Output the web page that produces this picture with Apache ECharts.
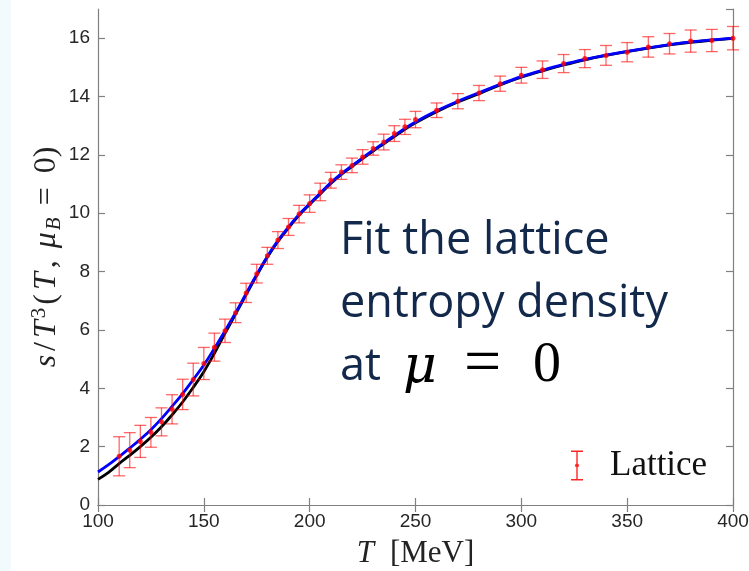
<!DOCTYPE html>
<html>
<head>
<meta charset="utf-8">
<script src="https://cdn.jsdelivr.net/npm/echarts@6/dist/echarts.min.js"></script>
<style>
html,body{margin:0;padding:0;background:#fff;}
#chart{width:749px;height:571px;}
</style>
</head>
<body>
<div id="chart"></div>
<script>
// Lattice data: temperature [MeV], s/T^3, error
var latticeT = [110,115,120,125,130,135,140,145,150,155,160,165,170,175,180,185,190,195,200,205,210,215,220,225,230,235,240,245,250,260,270,280,290,300,310,320,330,340,350,360,370,380,390,400];
var latticeS = [1.67,1.88,2.18,2.49,2.85,3.28,3.79,4.30,4.85,5.41,5.97,6.59,7.27,7.93,8.54,9.08,9.53,9.97,10.33,10.73,11.13,11.41,11.64,11.93,12.22,12.44,12.73,12.96,13.21,13.53,13.84,14.12,14.44,14.73,14.92,15.13,15.30,15.41,15.52,15.70,15.81,15.90,15.92,16.00];
var latticeErr = [0.67,0.60,0.55,0.51,0.48,0.50,0.52,0.56,0.55,0.48,0.40,0.34,0.33,0.32,0.29,0.29,0.29,0.30,0.30,0.30,0.27,0.25,0.25,0.25,0.23,0.27,0.27,0.26,0.28,0.25,0.26,0.26,0.26,0.27,0.30,0.31,0.31,0.34,0.33,0.35,0.35,0.38,0.38,0.40];

// Fit curves
var curveT = [100,105,110,115,120,125,130,135,140,145,150,155,160,165,170,175,180,185,190,195,200,205,210,215,220,225,230,235,240,245,250,260,270,280,290,300,310,320,330,340,350,360,370,380,390,400];
var blueFit = [1.13,1.38,1.66,1.95,2.25,2.58,2.96,3.38,3.82,4.30,4.80,5.37,5.97,6.59,7.25,7.90,8.52,9.06,9.53,9.96,10.33,10.69,11.05,11.36,11.63,11.90,12.16,12.41,12.66,12.91,13.13,13.51,13.84,14.13,14.42,14.68,14.90,15.10,15.27,15.42,15.55,15.67,15.78,15.87,15.94,16.00];
var blackFit = [0.88,1.12,1.42,1.70,2.00,2.32,2.68,3.09,3.53,4.03,4.57,5.20,5.88,6.54,7.21,7.87,8.49,9.03,9.50,9.93,10.30,10.66,11.02,11.33,11.60,11.87,12.13,12.38,12.63,12.88,13.10,13.48,13.81,14.10,14.40,14.66,14.88,15.08,15.26,15.41,15.54,15.66,15.77,15.86,15.93,15.99];

var xTicks = {min:100, max:400, step:50};
var yTicks = {min:0, max:17, step:2};

var chart = echarts.init(document.getElementById('chart'), null, {renderer:'canvas'});

function pairs(xs, ys){ return xs.map(function(x,i){ return [x, ys[i]]; }); }
var errData = latticeT.map(function(t,i){ return [t, latticeS[i]-latticeErr[i], latticeS[i]+latticeErr[i]]; });

var axisLineStyle = {color:'#808080', width:1.2};
var labelStyle = {color:'#262626', fontSize:19, fontFamily:'Liberation Sans, Arial, sans-serif'};
var serif = 'Liberation Serif, Times New Roman, serif';
var navy = '#13294b';
var sans = 'Open Sans, Lato, sans-serif';

var option = {
  animation:false,
  backgroundColor:'#ffffff',
  grid:{left:98, right:16, top:9, bottom:66, containLabel:false, outerBoundsMode:'none'},
  legend:{
    data:['Lattice'],
    left:566, top:443,
    itemWidth:50, itemHeight:30,
    icon:'path://M0,0h12v1.4h-12z M5.3,0h1.4v30h-1.4z M0,28.6h12v1.4h-12z M4,15a2,2 0 1,1 4,0a2,2 0 1,1 -4,0z',
    textStyle:{fontFamily:serif, fontSize:35, color:'#111', padding:[0,0,0,3]},
    itemStyle:{opacity:0.85}
  },
  xAxis:[{
    type:'value', min:xTicks.min, max:xTicks.max, interval:xTicks.step,
    position:'bottom',
    axisLine:{show:true, lineStyle:axisLineStyle},
    axisTick:{show:true, inside:true, length:7, lineStyle:axisLineStyle},
    axisLabel:Object.assign({margin:7}, labelStyle),
    splitLine:{show:false},
    name:'{i|T}{r|[MeV]}', nameLocation:'middle', nameGap:33, nameMoveOverlap:false,
    nameTextStyle:{rich:{
      i:{fontFamily:serif, fontStyle:'italic', fontSize:31, color:'#222', padding:[0,16,0,0]},
      r:{fontFamily:serif, fontSize:31, color:'#222'}
    }}
  },{
    type:'value', min:xTicks.min, max:xTicks.max, interval:xTicks.step,
    position:'top',
    axisLine:{show:true, lineStyle:axisLineStyle},
    axisTick:{show:true, inside:true, length:7, lineStyle:axisLineStyle},
    axisLabel:{show:false}, splitLine:{show:false}
  }],
  yAxis:[{
    type:'value', min:yTicks.min, max:yTicks.max, interval:yTicks.step,
    position:'left',
    axisLine:{show:true, lineStyle:axisLineStyle},
    axisTick:{show:true, inside:true, length:7, lineStyle:axisLineStyle},
    axisLabel:Object.assign({margin:8, showMaxLabel:false, formatter:function(v){ return v>16 ? '' : String(v); }}, labelStyle),
    splitLine:{show:false},
    name:'{i|s}{r|/}{i|T}{sup|3}{r|(}{i|T}{c|,}{i|μ}{sub|B}{e|=}{r|0)}',
    nameLocation:'middle', nameGap:33, nameRotate:90, nameMoveOverlap:false,
    nameTextStyle:{rich:{
      i:{fontFamily:serif, fontStyle:'italic', fontSize:32, color:'#222', lineHeight:36, padding:[0,2,0,2]},
      r:{fontFamily:serif, fontSize:32, color:'#222', lineHeight:36, padding:[0,2,0,2]},
      c:{fontFamily:serif, fontSize:32, color:'#222', lineHeight:36, padding:[0,10,0,2]},
      e:{fontFamily:serif, fontSize:32, color:'#222', lineHeight:36, padding:[0,12,0,12]},
      sup:{fontFamily:serif, fontSize:21, color:'#222', verticalAlign:'top', lineHeight:36, padding:[0,1,14,0]},
      sub:{fontFamily:serif, fontStyle:'italic', fontSize:21, color:'#222', verticalAlign:'bottom', lineHeight:36, padding:[6,0,0,0]}
    }}
  },{
    type:'value', min:yTicks.min, max:yTicks.max, interval:yTicks.step,
    position:'right',
    axisLine:{show:true, lineStyle:axisLineStyle},
    axisTick:{show:true, inside:true, length:7, lineStyle:axisLineStyle},
    axisLabel:{show:false}, splitLine:{show:false}
  }],
  series:[
    {
      name:'black fit', type:'line', data:pairs(curveT, blackFit),
      smooth:0.4, showSymbol:false, symbol:'none',
      lineStyle:{color:'#000000', width:2.8}, z:2
    },
    {
      name:'blue fit', type:'line', data:pairs(curveT, blueFit),
      smooth:0.4, showSymbol:false, symbol:'none',
      lineStyle:{color:'#0000ff', width:2.8}, z:3
    },
    {
      name:'Lattice err', type:'custom', data:errData, clip:false, z:4,
      renderItem:function(params, api){
        var x = api.value(0), lo = api.value(1), hi = api.value(2);
        var pLo = api.coord([x, lo]), pHi = api.coord([x, hi]);
        var hw = 6;
        var st = {stroke:'rgba(255,0,0,0.6)', lineWidth:1.3};
        return {type:'group', children:[
          {type:'line', shape:{x1:pLo[0], y1:pLo[1], x2:pHi[0], y2:pHi[1]}, style:st},
          {type:'line', shape:{x1:pLo[0]-hw, y1:pLo[1], x2:pLo[0]+hw, y2:pLo[1]}, style:st},
          {type:'line', shape:{x1:pHi[0]-hw, y1:pHi[1], x2:pHi[0]+hw, y2:pHi[1]}, style:st}
        ]};
      }
    },
    {
      name:'Lattice', type:'scatter', data:pairs(latticeT, latticeS),
      symbol:'circle', symbolSize:5, clip:false, z:5,
      itemStyle:{color:'#ff0000'}
    }
  ],
  graphic:[
    {type:'rect', left:0, top:0, shape:{width:11, height:571}, style:{fill:'#f3fafe'}, z:-1},
    {type:'text', left:340, top:219, z:10,
      style:{text:'Fit the lattice', fontFamily:sans, fontSize:45, fill:navy}},
    {type:'text', left:340, top:282, z:10,
      style:{text:'entropy density', fontFamily:sans, fontSize:45, fill:navy}},
    {type:'text', left:340, top:345, z:10,
      style:{text:'at', fontFamily:sans, fontSize:45, fill:navy}},
    {type:'text', left:403, top:342, z:10,
      style:{text:'μ', fontFamily:'DejaVu Serif, serif', fontStyle:'italic', fontSize:52, fill:'#000'}},
    {type:'text', left:464, top:333, z:10,
      style:{text:'=', fontFamily:serif, fontSize:66, fill:'#000'}},
    {type:'text', left:533, top:338, z:10,
      style:{text:'0', fontFamily:serif, fontSize:56, fill:'#000'}}
  ]
};
chart.setOption(option);
</script>
</body>
</html>
